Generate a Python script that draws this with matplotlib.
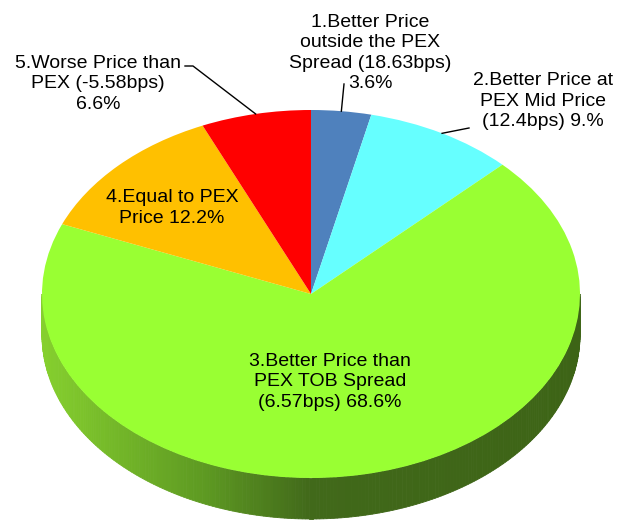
import matplotlib
matplotlib.use('Agg')
import matplotlib.pyplot as plt
import numpy as np
from matplotlib.colors import LinearSegmentedColormap

plt.rcParams['font.family'] = ['Liberation Sans', 'DejaVu Sans']

# data
labels = ['1.Better Price\noutside the PEX\nSpread (18.63bps)\n3.6%',
          '2.Better Price at\nPEX Mid Price\n(12.4bps) 9.%',
          '3.Better Price than\nPEX TOB Spread\n(6.57bps) 68.6%',
          '4.Equal to PEX\nPrice 12.2%',
          '5.Worse Price than\nPEX (-5.58bps)\n6.6%']
values = [3.6, 9.0, 68.6, 12.2, 6.6]
colors = ['#4F81BD', '#66FFFF', '#99FF33', '#FFC000', '#FF0000']

W, H = 617, 525
cx, cy = 311, 294      # pixel centre of the top face
rx, ry = 269, 184      # ellipse radii in pixels
depth = 41 / ry        # side height in data units

fig = plt.figure(figsize=(W / 100, H / 100), dpi=100)
ax = fig.add_axes([0, 0, 1, 1])

wedges, _ = ax.pie(values, colors=colors, startangle=90, counterclock=False,
                   radius=1, wedgeprops=dict(linewidth=0))
ax.set_aspect('auto')
ax.set_xlim(-cx / rx, (W - cx) / rx)
ax.set_ylim(-(H - cy) / ry, cy / ry)
ax.axis('off')

# side of the disc (front half, all in slice 3), shaded left->right
side_cmap = LinearSegmentedColormap.from_list(
    'side', [(0.0, '#86D02E'), (0.3, '#5E9A22'), (0.5, '#41691A'), (1.0, '#3D6416')])
th = np.linspace(np.pi, 2 * np.pi, 240)
for a0, a1 in zip(th[:-1], th[1:]):
    xs = [np.cos(a0), np.cos(a1), np.cos(a1), np.cos(a0)]
    ys = [np.sin(a0), np.sin(a1), np.sin(a1) - depth, np.sin(a0) - depth]
    c = side_cmap((np.cos((a0 + a1) / 2) + 1) / 2)
    ax.fill(xs, ys, color=c, lw=0.6, ec=c, zorder=0)


def px(x, y):
    # pixel position -> data coords
    return (x - cx) / rx, (cy - y) / ry


# mid angles of each slice, used for leader lines
bounds = 90 - 3.6 * np.concatenate([[0], np.cumsum(values)])
mids = np.radians((bounds[:-1] + bounds[1:]) / 2)
edge = [(np.cos(m), np.sin(m)) for m in mids]

fs = 14
kw = dict(ha='center', va='center', fontsize=fs, linespacing=1.24, color='black')

ax.text(*px(370, 53), labels[0], **kw)
ax.plot(*zip(edge[0], px(344, 84)), color='black', lw=1)

ax.text(*px(543, 101), labels[1], **kw)
ax.plot(*zip(edge[1], px(469, 128)), color='black', lw=1)

ax.text(*px(330, 382), labels[2], **kw)
ax.text(*px(172, 208), labels[3], **kw)

ax.text(*px(98, 84), labels[4], **kw)
l5 = [edge[4], px(193, 66), px(185, 66)]
ax.plot([p[0] for p in l5], [p[1] for p in l5], color='black', lw=1)

fig.savefig('out.png', dpi=100)
